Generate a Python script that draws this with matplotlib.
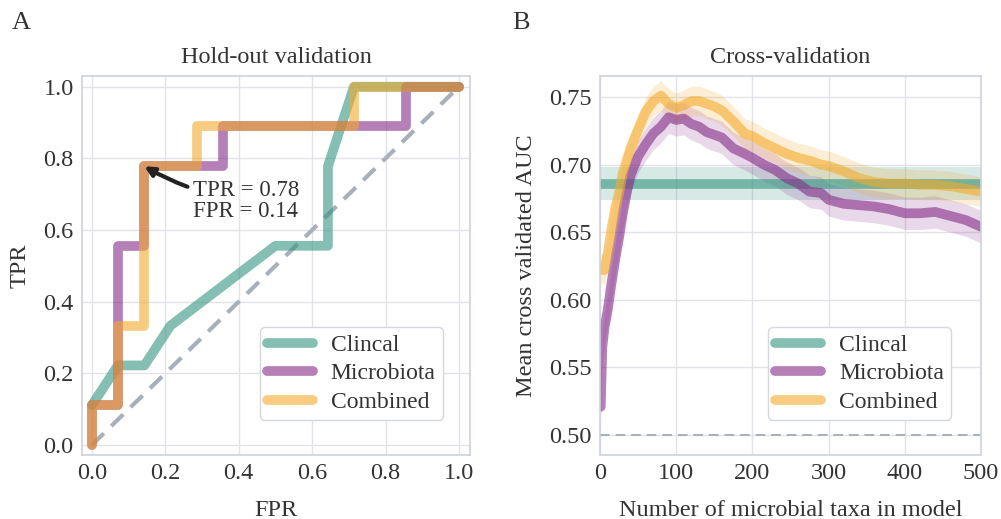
import numpy as np
import matplotlib
matplotlib.use("Agg")
import matplotlib.pyplot as plt

plt.rcParams['font.family'] = ['Liberation Serif', 'DejaVu Serif']
plt.rcParams['text.color'] = '#333333'
plt.rcParams['axes.labelcolor'] = '#333333'
plt.rcParams['xtick.color'] = '#333333'
plt.rcParams['ytick.color'] = '#333333'

# colours (alpha blended on white in the original)
c_clin = '#349480'
c_micro = '#842b89'
c_comb = '#f3aa2b'
labels = ['Clincal', 'Microbiota', 'Combined']

# --- panel A: ROC curves on the hold-out set
clin_fpr = [0.0, 0.071, 0.143, 0.214, 0.5, 0.643, 0.643, 0.714, 1.0]
clin_tpr = [0.111, 0.222, 0.222, 0.333, 0.556, 0.556, 0.778, 1.0, 1.0]

micro_fpr = [0.0, 0.0, 0.071, 0.071, 0.143, 0.143, 0.357, 0.357, 0.857, 0.857, 1.0]
micro_tpr = [0.0, 0.111, 0.111, 0.556, 0.556, 0.778, 0.778, 0.889, 0.889, 1.0, 1.0]

comb_fpr = [0.0, 0.0, 0.071, 0.071, 0.143, 0.143, 0.286, 0.286, 0.714, 0.714, 1.0]
comb_tpr = [0.0, 0.111, 0.111, 0.333, 0.333, 0.778, 0.778, 0.889, 0.889, 1.0, 1.0]

# --- panel B: cross-validated AUC vs number of taxa
n_taxa = [1, 3, 6, 10, 15, 20, 25, 30, 35, 40, 50, 60, 70, 80, 90, 100, 110, 120,
          130, 140, 150, 160, 175, 190, 200, 215, 230, 245, 260, 275, 290, 300,
          320, 340, 360, 380, 400, 420, 440, 460, 480, 500]
micro_auc = [0.521, 0.565, 0.580, 0.592, 0.612, 0.630, 0.646, 0.664, 0.679, 0.692,
             0.706, 0.715, 0.723, 0.728, 0.735, 0.733, 0.734, 0.730, 0.728, 0.724,
             0.722, 0.720, 0.712, 0.708, 0.705, 0.700, 0.696, 0.690, 0.686, 0.680,
             0.679, 0.674, 0.671, 0.670, 0.669, 0.667, 0.664, 0.664, 0.665, 0.662,
             0.659, 0.654]
comb_auc = [0.622, 0.624, 0.622, 0.634, 0.652, 0.668, 0.679, 0.694, 0.703, 0.712,
            0.726, 0.739, 0.747, 0.751, 0.745, 0.742, 0.744, 0.747, 0.747, 0.745,
            0.743, 0.740, 0.732, 0.723, 0.721, 0.716, 0.712, 0.708, 0.705, 0.703,
            0.700, 0.699, 0.695, 0.690, 0.687, 0.686, 0.686, 0.685, 0.685, 0.684,
            0.682, 0.680]
micro_sd = 0.012
comb_sd = 0.011
clin_auc = 0.686
clin_sd = 0.0125

fig = plt.figure(figsize=(10.01, 5.19), dpi=100)
ax1 = fig.add_axes([0.0819, 0.1233, 0.3876, 0.7303])
ax2 = fig.add_axes([0.5994, 0.1233, 0.3806, 0.7303])

for ax in (ax1, ax2):
    ax.set_facecolor('white')
    ax.grid(True, color='#e2e2e8', lw=1)
    ax.set_axisbelow(True)
    for s in ax.spines.values():
        s.set_color('#cfd2dc')
        s.set_linewidth(1.2)
    ax.tick_params(length=0, labelsize=17.5, pad=6)

lw = 7
rnd = dict(solid_capstyle='round', solid_joinstyle='round')
leg_kw = dict(loc='lower right', fontsize=17, handlelength=1.95, handletextpad=0.75,
              labelspacing=0.3, borderpad=0.3, borderaxespad=0,
              edgecolor='#d5d7de', framealpha=1, fancybox=True)

ax1.plot([0, 1], [0, 1], ls='--', color='#a9b0ba', lw=3, dashes=(4, 2.5), zorder=1)
ax1.plot(clin_fpr, clin_tpr, color=c_clin, alpha=0.6, lw=lw, label=labels[0], **rnd)
ax1.plot(micro_fpr, micro_tpr, color=c_micro, alpha=0.6, lw=lw, label=labels[1], **rnd)
ax1.plot(comb_fpr, comb_tpr, color=c_comb, alpha=0.6, lw=lw, label=labels[2], **rnd)
ax1.annotate('TPR = 0.78\nFPR = 0.14', xy=(0.143, 0.778), xytext=(0.275, 0.68),
             fontsize=16.5, va='center', ha='left', linespacing=1.0,
             arrowprops=dict(arrowstyle='-|>', color='#222222', lw=3,
                             mutation_scale=14, shrinkA=2, shrinkB=0,
                             connectionstyle='arc3,rad=-0.1'))
ax1.set_xlim(-0.027, 1.03)
ax1.set_ylim(-0.028, 1.03)
ax1.set_xticks([0.0, 0.2, 0.4, 0.6, 0.8, 1.0])
ax1.set_yticks([0.0, 0.2, 0.4, 0.6, 0.8, 1.0])
ax1.set_xlabel('FPR', fontsize=17.5, labelpad=11)
ax1.set_ylabel('TPR', fontsize=17.5, labelpad=9)
ax1.set_title('Hold-out validation', fontsize=17.5, pad=9)
ax1.legend(bbox_to_anchor=(0.93, 0.092), **leg_kw)

ax2.axhline(0.5, ls='--', color='#a9b0ba', lw=1.4, dashes=(5, 3))
ax2.axhspan(clin_auc - clin_sd, clin_auc + clin_sd, color=c_clin, alpha=0.2, lw=0)
ax2.axhline(clin_auc, color=c_clin, alpha=0.6, lw=lw, label=labels[0], **rnd)
x = np.array(n_taxa)
m = np.array(micro_auc)
c = np.array(comb_auc)
ax2.fill_between(x, m - micro_sd, m + micro_sd, color=c_micro, alpha=0.18, lw=0)
ax2.plot(x, m, color=c_micro, alpha=0.6, lw=lw, label=labels[1], **rnd)
ax2.fill_between(x, c - comb_sd, c + comb_sd, color=c_comb, alpha=0.2, lw=0)
ax2.plot(x, c, color=c_comb, alpha=0.6, lw=lw, label=labels[2], **rnd)
ax2.set_xlim(0, 500)
ax2.set_ylim(0.4853, 0.7655)
ax2.set_xticks([0, 100, 200, 300, 400, 500])
ax2.set_yticks([0.50, 0.55, 0.60, 0.65, 0.70, 0.75])
ax2.set_yticklabels(['0.50', '0.55', '0.60', '0.65', '0.70', '0.75'])
ax2.set_xlabel('Number of microbial taxa in model', fontsize=17.5, labelpad=11)
ax2.set_ylabel('Mean cross validated AUC', fontsize=17.5, labelpad=9)
ax2.set_title('Cross-validation', fontsize=17.5, pad=9)
ax2.legend(bbox_to_anchor=(0.921, 0.092), **leg_kw)

fig.text(0.012, 0.955, 'A', fontsize=19, va='center')
fig.text(0.512, 0.955, 'B', fontsize=19, va='center')

fig.savefig('out.png', dpi=100, facecolor='white')
